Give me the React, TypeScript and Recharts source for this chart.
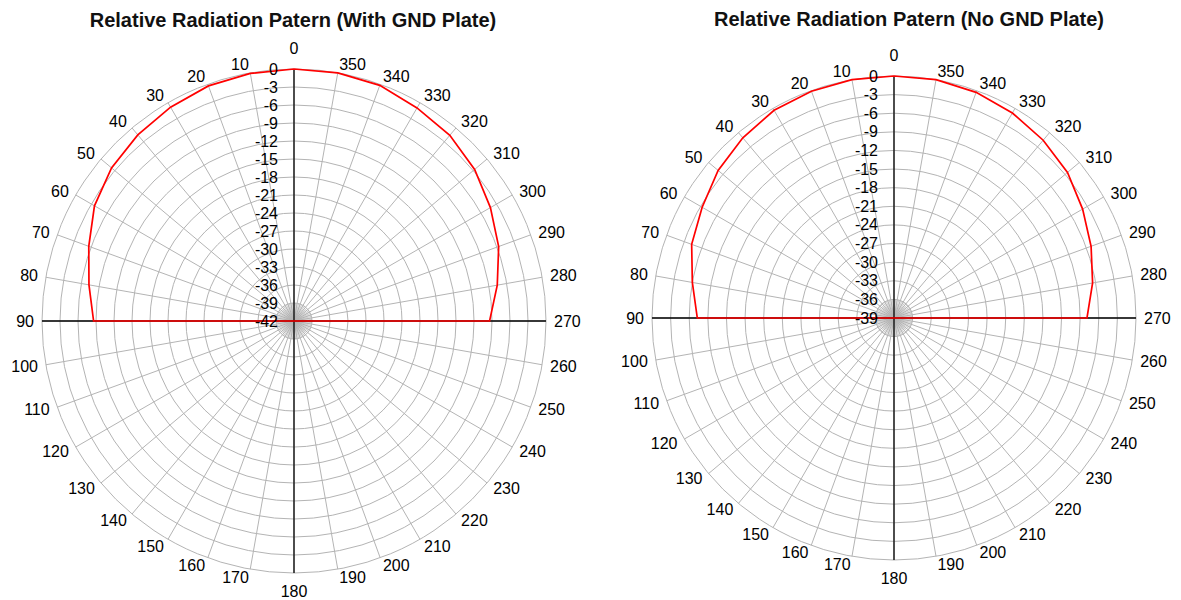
import React from 'react';
import { RadarChart, Radar, PolarGrid, PolarAngleAxis, PolarRadiusAxis } from 'recharts';

// Angles (degrees), counter-clockwise from top
const angleLabels = [0, 10, 20, 30, 40, 50, 60, 70, 80, 90, 100, 110, 120, 130, 140, 150, 160, 170, 180, 190, 200, 210, 220, 230, 240, 250, 260, 270, 280, 290, 300, 310, 320, 330, 340, 350];

// Relative level (dB) – with GND plate
const withGndDb = [0, -0.1, -0.3, -0.85, -1.5, -2.3, -3.6, -5.6, -7.3, -8.6, -42, -42, -42, -42, -42, -42, -42, -42, -42, -42, -42, -42, -42, -42, -42, -42, -42, -9.4, -7.6, -5.7, -4.2, -2.7, -1.6, -1.0, -0.2, 0];

// Relative level (dB) – no GND plate
const noGndDb = [0, 0, -0.1, -0.35, -1.1, -2.0, -3.3, -4.3, -6.0, -7.3, -39, -39, -39, -39, -39, -39, -39, -39, -39, -39, -39, -39, -39, -39, -39, -39, -39, -7.9, -6.5, -5.2, -3.9, -2.5, -1.6, -0.85, -0.3, 0];

// Radial tick labels
const withGndTicks = [-42, -39, -36, -33, -30, -27, -24, -21, -18, -15, -12, -9, -6, -3, 0];
const noGndTicks = [-39, -36, -33, -30, -27, -24, -21, -18, -15, -12, -9, -6, -3, 0];

const FONT = '"Liberation Sans", Arial, Helvetica, sans-serif';
const GRID = '#b4b4b4';

const denseAngles = Array.from({ length: 72 }, (_, i) => i * 5);

const makeAngleTick = (cx: number, cy: number) => (props: any) => {
  const { x, y, payload } = props;
  const dx = x - cx;
  const dy = y - cy;
  const len = Math.sqrt(dx * dx + dy * dy) || 1;
  const ux = dx / len;
  const uy = dy / len;
  let anchor: 'start' | 'end' | 'middle' = 'middle';
  let ty = y;
  if (ux > 0.02) anchor = 'start';
  else if (ux < -0.02) anchor = 'end';
  else ty = y + uy * (uy < 0 ? 13 : 10);
  return (
    <text x={x} y={ty} textAnchor={anchor} dominantBaseline="central" fontSize={16} fill="#000" fontFamily={FONT}>
      {payload.value}
    </text>
  );
};

const RadiusTick = (props: any) => {
  const { x, y, payload } = props;
  return (
    <text x={x - 16} y={y} textAnchor="end" dominantBaseline="central" fontSize={16} fill="#000" fontFamily={FONT}>
      {payload.value}
    </text>
  );
};

type PlotProps = {
  title: string;
  values: number[];
  ticks: number[];
  left: number;
  width: number;
  cx: number;
  cy: number;
  r: number;
  titleX: number;
  titleY: number;
};

const START = 90;
const END = 450;

const PolarPlot = ({ title, values, ticks, left, width, cx, cy, r, titleX, titleY }: PlotProps) => {
  const data = angleLabels.map((a, i) => ({ angle: a, v: values[i] }));
  const minDb = ticks[0];
  const innerR = r / (ticks.length - 1);
  const AngleTick = makeAngleTick(cx, cy);
  return (
    <>
      <div
        style={{
          position: 'absolute',
          left: titleX - 300,
          top: titleY - 14,
          width: 600,
          height: 28,
          lineHeight: '28px',
          textAlign: 'center',
          fontFamily: FONT,
          fontWeight: 'bold',
          fontSize: 20,
          color: '#111',
        }}
      >
        {title}
      </div>
      {/* dense spokes near the pole */}
      <div style={{ position: 'absolute', left, top: 0 }}>
        <RadarChart width={width} height={600} data={data} cx={cx} cy={cy} outerRadius={innerR} startAngle={START} endAngle={END}>
          <PolarGrid gridType="circle" polarAngles={denseAngles} polarRadius={[]} stroke={GRID} strokeWidth={0.7} />
        </RadarChart>
      </div>
      <div style={{ position: 'absolute', left, top: 0 }}>
        <RadarChart width={width} height={600} data={data} cx={cx} cy={cy} outerRadius={r} startAngle={START} endAngle={END}>
          <PolarGrid gridType="circle" stroke={GRID} strokeWidth={1} />
          <PolarGrid gridType="circle" polarAngles={[0, 90, 180, 270]} polarRadius={[]} stroke="#000" strokeWidth={1.3} />
          <PolarAngleAxis
            dataKey="angle"
            type="number"
            domain={[0, 360]}
            ticks={angleLabels}
            tickCount={36}
            tick={AngleTick}
            tickLine={false}
            axisLine={false}
            tickSize={8}
          />
          <PolarRadiusAxis
            angle={90}
            type="number"
            domain={[minDb, 0]}
            ticks={ticks}
            tickCount={ticks.length}
            tick={RadiusTick}
            axisLine={false}
            allowDataOverflow
          />
          <Radar dataKey="v" stroke="#ff0000" strokeWidth={1.7} fill="none" fillOpacity={0} dot={false} isAnimationActive={false} />
        </RadarChart>
      </div>
    </>
  );
};

export default function App() {
  return (
    <div style={{ position: 'absolute', left: 0, top: 0, width: 1181, height: 600, background: '#fff', overflow: 'hidden' }}>
      <PolarPlot
        title="Relative Radiation Patern (With GND Plate)"
        values={withGndDb}
        ticks={withGndTicks}
        left={0}
        width={590}
        cx={294}
        cy={321}
        r={252}
        titleX={293}
        titleY={20}
      />
      <PolarPlot
        title="Relative Radiation Patern (No GND Plate)"
        values={noGndDb}
        ticks={noGndTicks}
        left={590}
        width={591}
        cx={304}
        cy={318}
        r={242}
        titleX={909}
        titleY={19}
      />
    </div>
  );
}
